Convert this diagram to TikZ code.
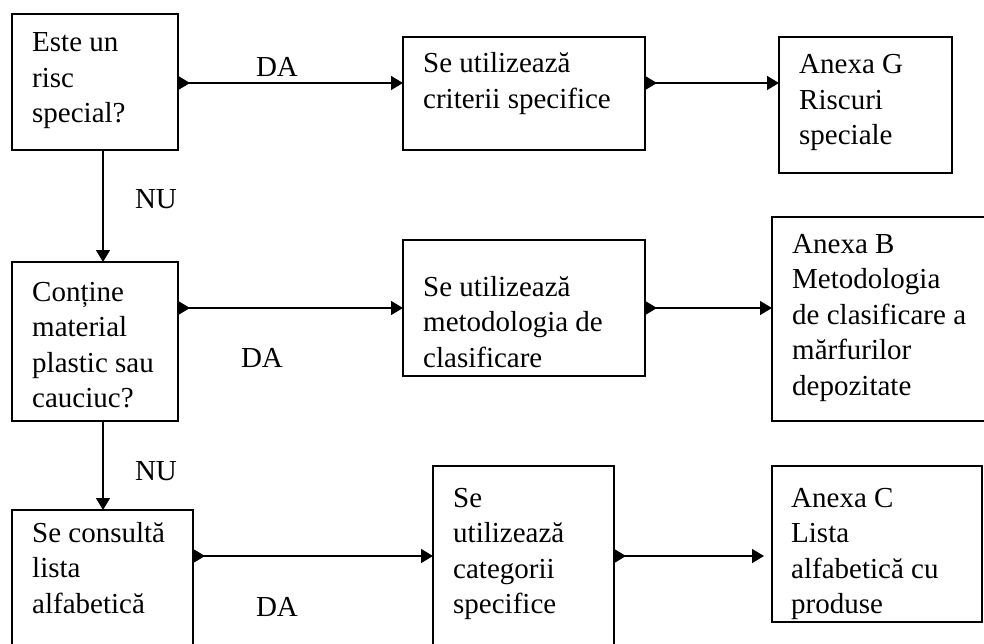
\documentclass[tikz,border=0pt]{standalone}
\usepackage{fontspec}
\setmainfont{Liberation Serif}
\usetikzlibrary{arrows.meta,calc}
\begin{document}
\begin{tikzpicture}[x=1pt,y=-1pt,
  box/.style={draw, line width=1.6pt, anchor=north west, inner sep=0pt, outer sep=0pt},
  txt/.style={anchor=base west, inner sep=0pt, font=\fontsize{29}{35.5}\selectfont},
  lbl/.style={inner sep=0pt, font=\fontsize{29}{35.5}\selectfont},
  flow/.style={line width=1.5pt, -{Triangle[length=12pt,width=14pt]}},
  dflow/.style={line width=1.5pt, {Triangle[reversed,length=12pt,width=14pt]}-{Triangle[length=12pt,width=14pt]}}]
\clip (0,0) rectangle (984,644);
\fill[white] (0,0) rectangle (984,644);
% boxes
\node[box, minimum width=166pt, minimum height=136pt] (b1) at (12,14) {};
\node[box, minimum width=242pt, minimum height=113pt] (b2) at (403,37) {};
\node[box, minimum width=173pt, minimum height=136pt] (b3) at (779,37) {};
\node[box, minimum width=166pt, minimum height=159pt] (b4) at (12,262) {};
\node[box, minimum width=242pt, minimum height=136pt] (b5) at (403,240) {};
\node[box, minimum width=240pt, minimum height=204pt] (b6) at (772,217) {};
\node[box, minimum width=181pt, minimum height=160pt] (b7) at (12,510) {};
\node[box, minimum width=181pt, minimum height=200pt] (b8) at (433,466) {};
\node[box, minimum width=210pt, minimum height=156pt] (b9) at (772,466) {};
% texts
\node[txt] (t1) at (32,52) {\parbox[t]{160pt}{\raggedright Este un\\risc\\special?}};
\node[txt] (t2) at (423,73) {\parbox[t]{220pt}{\raggedright Se utilizează\\criterii specifice}};
\node[txt] (t3) at (799,74) {\parbox[t]{160pt}{\raggedright Anexa G\\Riscuri\\speciale}};
\node[txt] (t4) at (32,301) {\parbox[t]{160pt}{\raggedright Conține\\material\\plastic sau\\cauciuc?}};
\node[txt] (t5) at (423,296) {\parbox[t]{220pt}{\raggedright Se utilizează\\metodologia de\\clasificare}};
\node[txt] (t6) at (792,253) {\parbox[t]{240pt}{\raggedright Anexa B\\Metodologia\\de clasificare a\\mărfurilor\\depozitate}};
\node[txt] (t7) at (32,542) {\parbox[t]{170pt}{\raggedright Se consultă\\lista\\alfabetică}};
\node[txt] (t8) at (453,507) {\parbox[t]{160pt}{\raggedright Se\\utilizează\\categorii\\specifice}};
\node[txt] (t9) at (791,507) {\parbox[t]{190pt}{\raggedright Anexa C\\Lista\\alfabetică cu\\produse}};
% labels
\node[lbl] (l1) at (277,67) {DA};
\node[lbl] (l2) at (156,199) {NU};
\node[lbl] (l3) at (262,358) {DA};
\node[lbl] (l4) at (156,471) {NU};
\node[lbl] (l5) at (277,607) {DA};
% helper coordinates
\coordinate (r1) at (0,83);
\coordinate (r2) at (0,308);
\coordinate (r3) at (0,556);
\coordinate (vx) at (103,0);
% connectors
\draw[dflow] (b1.east |- r1) -- (b2.west |- r1);
\draw[dflow] (b2.east |- r1) -- (b3.west |- r1);
\draw[dflow] (b4.east |- r2) -- (b5.west |- r2);
\draw[dflow] (b5.east |- r2) -- (b6.west |- r2);
\draw[dflow] (b7.east |- r3) -- (b8.west |- r3);
\draw[dflow, shorten >=8pt] (b8.east |- r3) -- (b9.west |- r3);
\draw[flow] (b1.south -| vx) -- (b4.north -| vx);
\draw[flow] (b4.south -| vx) -- (b7.north -| vx);
\end{tikzpicture}
\end{document}
